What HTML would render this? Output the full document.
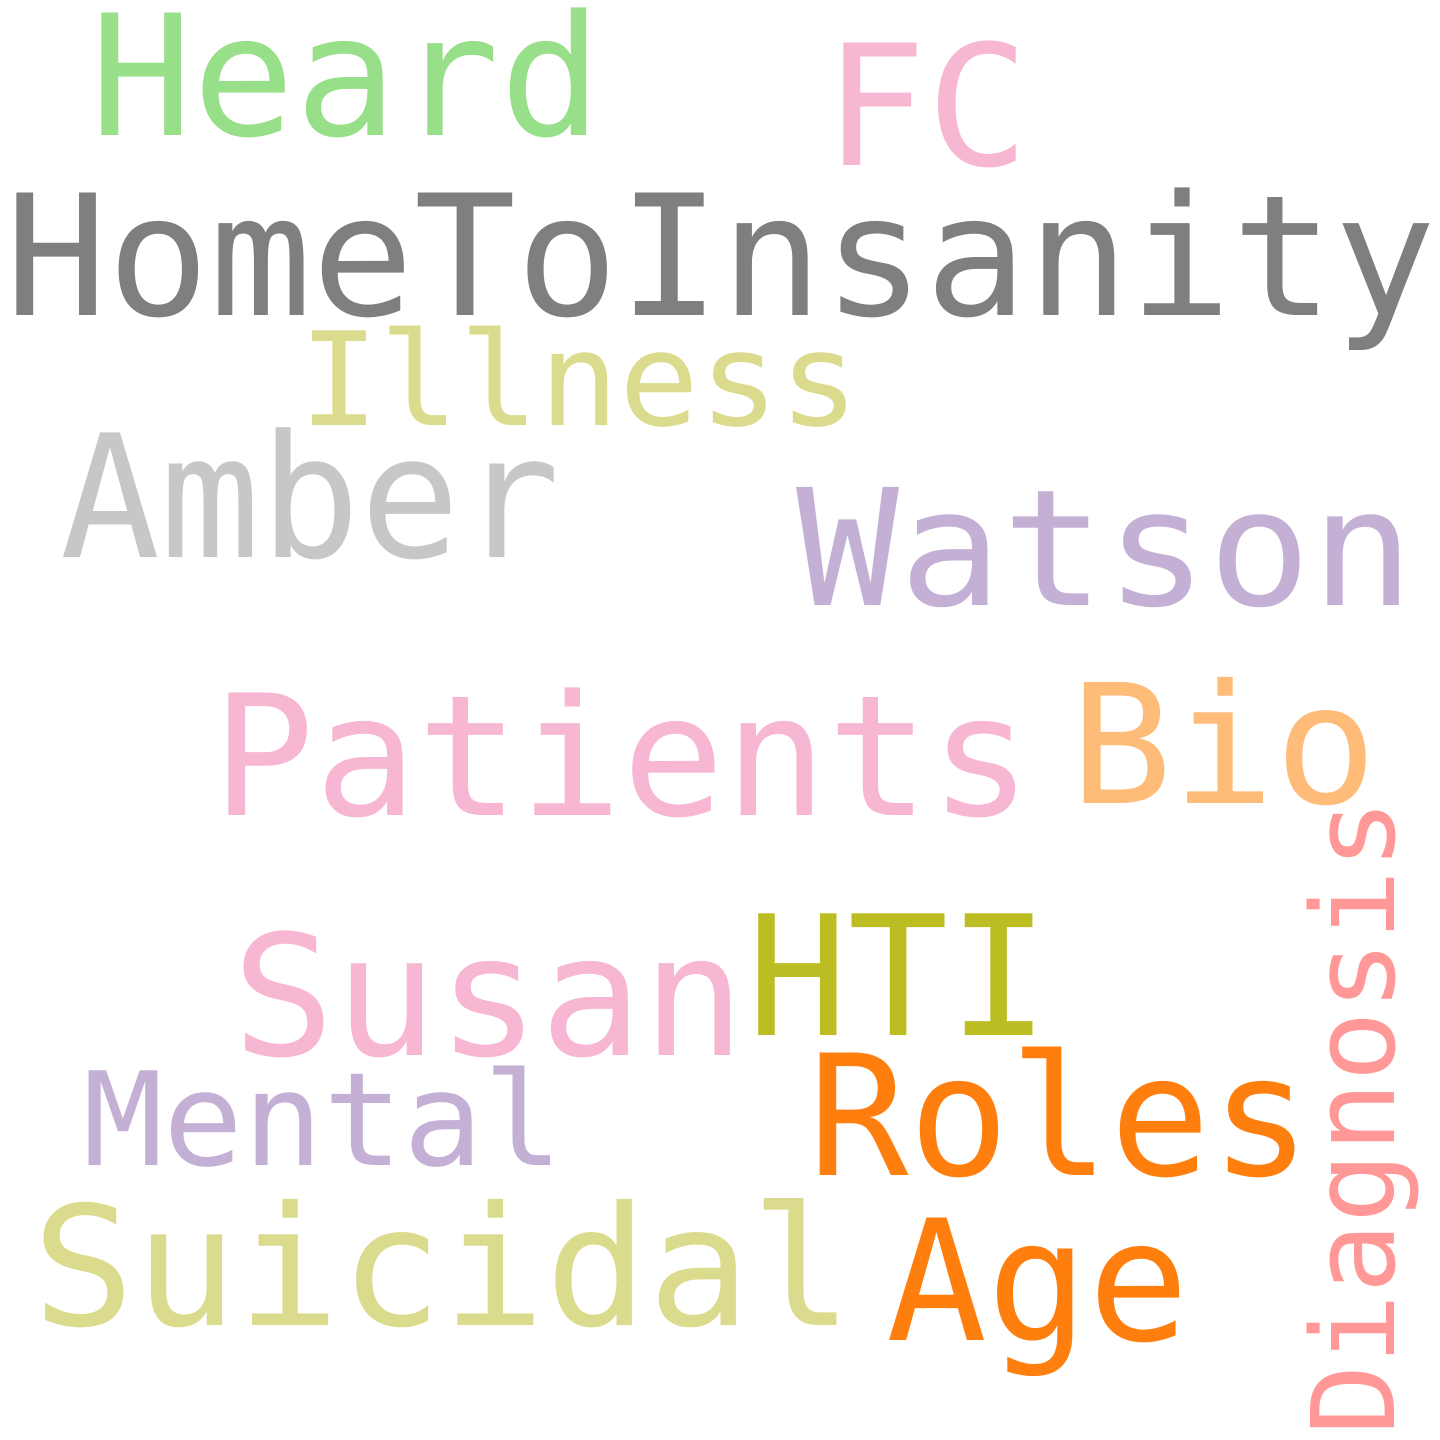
<!DOCTYPE html>
<html><head><meta charset="utf-8"><style>
html,body{margin:0;padding:0;background:#fff;}
svg{display:block;}
text{font-family:"DejaVu Sans Mono","Liberation Mono",monospace;}
</style></head><body>
<svg width="1440" height="1440" viewBox="0 0 1440 1440" xmlns="http://www.w3.org/2000/svg">
<rect width="1440" height="1440" fill="#fff"/>
<text x="90" y="135" font-size="168" textLength="512" lengthAdjust="spacingAndGlyphs" fill="#98df8a">Heard</text>
<text x="824" y="165" font-size="168" textLength="205" lengthAdjust="spacingAndGlyphs" fill="#f7b6d2">FC</text>
<text x="5" y="315" font-size="168" textLength="1431" lengthAdjust="spacingAndGlyphs" fill="#7f7f7f">HomeToInsanity</text>
<text x="299" y="425" font-size="130" textLength="560" lengthAdjust="spacingAndGlyphs" fill="#dbdb8d">Illness</text>
<text x="60" y="557" font-size="171" textLength="500" lengthAdjust="spacingAndGlyphs" fill="#c7c7c7">Amber</text>
<text x="796" y="605" font-size="162" textLength="618" lengthAdjust="spacingAndGlyphs" fill="#c5b0d5">Watson</text>
<text x="212" y="815" font-size="168" textLength="820" lengthAdjust="spacingAndGlyphs" fill="#f7b6d2">Patients</text>
<text x="1070" y="803" font-size="166" textLength="307" lengthAdjust="spacingAndGlyphs" fill="#ffbb78">Bio</text>
<text x="232" y="1055" font-size="168" textLength="513" lengthAdjust="spacingAndGlyphs" fill="#f7b6d2">Susan</text>
<text x="747" y="1035" font-size="167" textLength="302" lengthAdjust="spacingAndGlyphs" fill="#bcbd22">HTI</text>
<text x="83" y="1165" font-size="130" textLength="480" lengthAdjust="spacingAndGlyphs" fill="#c5b0d5">Mental</text>
<text x="808" y="1175" font-size="168" textLength="503" lengthAdjust="spacingAndGlyphs" fill="#ff7f0e">Roles</text>
<text x="32" y="1325" font-size="166" textLength="821" lengthAdjust="spacingAndGlyphs" fill="#dbdb8d">Suicidal</text>
<text x="886" y="1340" font-size="168" textLength="303" lengthAdjust="spacingAndGlyphs" fill="#ff7f0e">Age</text>
<text transform="translate(1394,1435) rotate(-90)" x="0" y="0" font-size="115" textLength="636" lengthAdjust="spacingAndGlyphs" fill="#ff9896">Diagnosis</text>
</svg>
</body></html>
